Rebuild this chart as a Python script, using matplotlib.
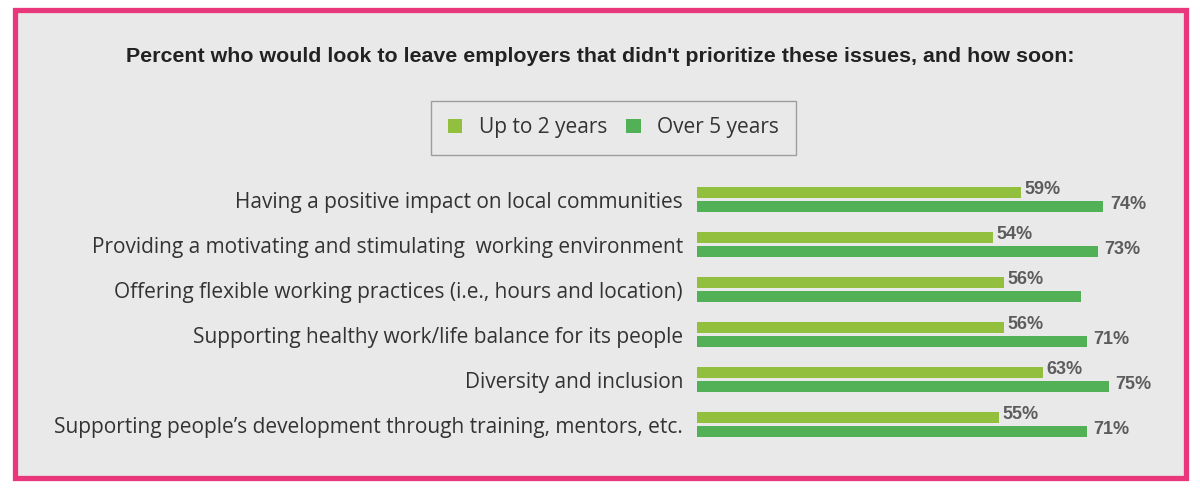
import matplotlib
matplotlib.use("Agg")
import matplotlib.pyplot as plt
from matplotlib.patches import Rectangle
import numpy as np

categories = [
    "Having a positive impact on local communities",
    "Providing a motivating and stimulating  working environment",
    "Offering flexible working practices (i.e., hours and location)",
    "Supporting healthy work/life balance for its people",
    "Diversity and inclusion",
    "Supporting people\u2019s development through training, mentors, etc.",
]
up_to_2 = [59, 54, 56, 56, 63, 55]
over_5 = [74, 73, 70, 71, 75, 71]
# the source leaves one value unlabelled
over_5_labels = ["74%", "73%", "", "71%", "75%", "71%"]
up_to_2_labels = [f"{v}%" for v in up_to_2]

LIGHT = "#93bf3f"
DARK = "#52b157"
BG = "#e9e9e9"
PINK = "#e8387b"
W, H = 1200, 490

narrow = ["Liberation Sans", "DejaVu Sans"]
body = ["Open Sans", "DejaVu Sans"]

fig = plt.figure(figsize=(W / 100, H / 100), dpi=100)
fig.patch.set_facecolor("white")

# pink frame around the grey panel
fig.patches.append(Rectangle((14.5 / W, 1 - 477.5 / H), 1171 / W, 467 / H,
                             transform=fig.transFigure, facecolor=BG,
                             edgecolor=PINK, linewidth=3.8, zorder=-5))

# axes: x=0 at px 697, 5.49 px per percent; rows 45 px apart
x0, x1 = 697, 1183
top, bot = 177, 447
ax = fig.add_axes([x0 / W, 1 - bot / H, (x1 - x0) / W, (bot - top) / H])
ax.set_zorder(2)
ax.set_facecolor("none")
ax.set_xlim(0, (x1 - x0) / 5.49)
ax.set_ylim(len(categories) - 0.5, -0.5)

y = np.arange(len(categories))
bh = 11 / 45
off = 7 / 45
b1 = ax.barh(y - off, up_to_2, height=bh, color=LIGHT, label="Up to 2 years")
b2 = ax.barh(y + off, over_5, height=bh, color=DARK, label="Over 5 years")

for yi, v, lab in zip(y, up_to_2, up_to_2_labels):
    ax.text(v + 0.6, yi - off - 0.06, lab, va="center", ha="left",
            fontsize=13, fontweight="bold", color="#5c5c5c", family=narrow)
for yi, v, lab in zip(y, over_5, over_5_labels):
    ax.text(v + 1.2, yi + off - 0.04, lab, va="center", ha="left",
            fontsize=13, fontweight="bold", color="#5c5c5c", family=narrow)

ax.set_yticks(y)
ax.set_yticklabels(categories, fontsize=15, color="#333333", family=body)
ax.tick_params(axis="y", length=0, pad=10)
ax.set_xticks([])
for s in ax.spines.values():
    s.set_visible(False)

fig.text(600 / W, 1 - 57 / H,
         "Percent who would look to leave employers that didn't prioritize these issues, and how soon:",
         ha="center", va="center", fontsize=15.4, fontweight="bold",
         color="#222222", family=narrow)

leg = fig.legend(handles=[b1, b2], loc="center", ncol=2,
                 bbox_to_anchor=(613.5 / W, 1 - 128 / H),
                 prop={"family": body, "size": 15}, frameon=True,
                 handlelength=0.7, handleheight=0.7, handletextpad=0.8,
                 columnspacing=0.9, borderpad=0.8, fancybox=False,
                 labelcolor="#333333")
leg.get_frame().set_edgecolor("#8a8a8a")
leg.get_frame().set_facecolor(BG)
leg.get_frame().set_linewidth(1.0)

fig.savefig("out.png", dpi=100, facecolor=fig.get_facecolor())
